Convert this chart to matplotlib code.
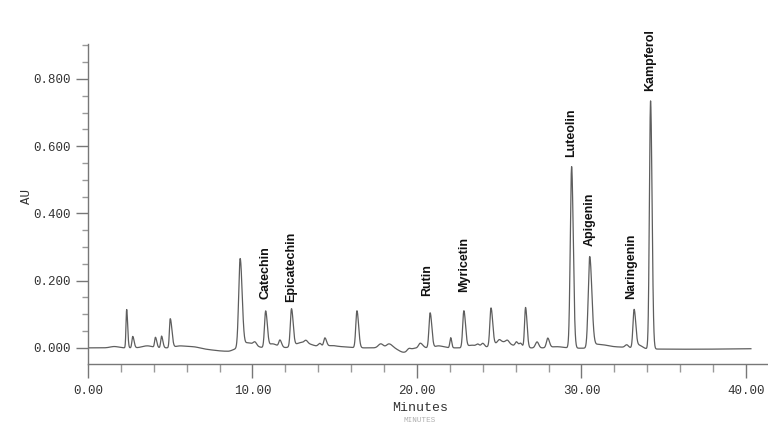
import numpy as np
import matplotlib
matplotlib.use('Agg')
import matplotlib.pyplot as plt
from matplotlib.ticker import MultipleLocator, FormatStrFormatter

# peak table: retention time (min), height (AU),
# front width and tail width (min)
rt = [1.6, 2.35, 2.72, 3.6, 4.1, 4.47, 5.0, 5.6, 6.5, 8.5,
      9.25, 9.7, 10.15, 10.8, 11.2, 11.67, 12.37, 13.0, 13.25, 14.1,
      14.4, 14.8, 15.5, 16.35, 17.8, 18.3, 19.2, 19.5, 20.2, 20.8,
      21.3, 22.05, 22.85, 23.3, 23.7, 24.0, 24.5, 25.0, 25.2, 25.5,
      26.05, 26.3, 26.6, 27.3, 27.95, 28.5, 29.4, 30.5, 31.0, 32.5,
      32.75, 33.2, 33.5, 34.2, 36.5]
height = [0.004, 0.114, 0.034, 0.006, 0.030, 0.035, 0.086, 0.006, 0.003, -0.010,
          0.265, 0.015, 0.010, 0.108, 0.012, 0.020, 0.112, 0.016, 0.008, 0.010,
          0.026, 0.006, 0.003, 0.110, 0.012, 0.012, -0.013, 0.006, 0.014, 0.104,
          0.006, 0.030, 0.110, 0.008, 0.008, 0.012, 0.112, 0.008, 0.018, 0.008,
          0.014, 0.012, 0.120, 0.018, 0.028, 0.004, 0.540, 0.270, 0.012, 0.004,
          0.008, 0.114, 0.010, 0.738, -0.004]
front = [0.25, 0.04, 0.05, 0.3, 0.05, 0.05, 0.05, 0.3, 0.3, 1.0,
         0.09, 0.2, 0.1, 0.07, 0.2, 0.07, 0.07, 0.4, 0.1, 0.1,
         0.07, 0.3, 0.4, 0.07, 0.15, 0.15, 0.3, 0.1, 0.1, 0.07,
         0.2, 0.05, 0.07, 0.2, 0.1, 0.1, 0.07, 0.1, 0.5, 0.1,
         0.08, 0.08, 0.06, 0.1, 0.08, 0.4, 0.08, 0.09, 0.3, 0.6,
         0.1, 0.07, 0.15, 0.07, 4.0]
tail = [0.25, 0.06, 0.08, 0.3, 0.08, 0.08, 0.1, 0.5, 0.3, 0.3,
        0.12, 0.4, 0.1, 0.1, 0.3, 0.1, 0.1, 0.6, 0.1, 0.1,
        0.1, 0.3, 0.4, 0.1, 0.15, 0.2, 0.3, 0.1, 0.15, 0.1,
        0.3, 0.06, 0.1, 0.3, 0.1, 0.1, 0.1, 0.1, 0.5, 0.1,
        0.1, 0.1, 0.09, 0.1, 0.1, 0.4, 0.1, 0.13, 0.6, 0.6,
        0.1, 0.1, 0.2, 0.09, 4.0]

compounds = ['Catechin', 'Epicatechin', 'Rutin', 'Myricetin',
             'Luteolin', 'Apigenin', 'Naringenin', 'Kampferol']
compound_rt = [10.8, 12.37, 20.8, 22.85, 29.4, 30.5, 33.2, 34.2]
label_gap = [12, 7, 17, 19, 10, 11, 10, 10]
label_shift = [0, 0, -3, 0, 0, 0, -3, 0]

t = np.linspace(0.0, 40.3, 6000)
au = np.zeros_like(t)
for c, h, sl, sr in zip(rt, height, front, tail):
    s = np.where(t < c, sl, sr)
    au += h * np.exp(-0.5 * ((t - c) / s) ** 2)

fig = plt.figure(figsize=(7.68, 4.26), dpi=100)
ax = fig.add_axes([88 / 768, 62 / 426, 681 / 768, 320 / 426])
ax.plot(t, au, color='#5e5e5e', lw=0.9)
ax.set_xlim(0, 41.4)
ax.set_ylim(-0.048, 0.904)

for s in ['top', 'right']:
    ax.spines[s].set_visible(False)
for s in ['left', 'bottom']:
    ax.spines[s].set_color('#777777')
    ax.spines[s].set_linewidth(1.0)

ax.xaxis.set_major_locator(MultipleLocator(10))
ax.xaxis.set_minor_locator(MultipleLocator(2))
ax.yaxis.set_major_locator(MultipleLocator(0.2))
ax.yaxis.set_minor_locator(MultipleLocator(0.05))
ax.xaxis.set_major_formatter(FormatStrFormatter('%.2f'))
ax.yaxis.set_major_formatter(FormatStrFormatter('%.3f'))
ax.tick_params(axis='x', which='major', length=10, width=1, color='#777777', pad=5)
ax.tick_params(axis='x', which='minor', length=5.5, width=1, color='#999999')
ax.tick_params(axis='y', which='major', length=8.6, width=1, color='#777777', pad=3.5)
ax.tick_params(axis='y', which='minor', length=4.5, width=1, color='#999999')
for lab in ax.get_xticklabels() + ax.get_yticklabels():
    lab.set_family('Liberation Mono')
    lab.set_fontsize(9)
    lab.set_color('#333333')

fig.text(27 / 768, 1 - 197 / 426, 'AU', rotation=90, ha='center', va='center',
         family='Liberation Mono', fontsize=9, color='#333333')
fig.text(420 / 768, 1 - 408 / 426, 'Minutes', ha='center', va='center',
         family='Liberation Mono', fontsize=9.5, color='#333333')
fig.text(420 / 768, 1 - 420 / 426, 'MINUTES', ha='center', va='center',
         family='Liberation Mono', fontsize=5.5, color='#b0b0b0')

for name, c, gap, dx in zip(compounds, compound_rt, label_gap, label_shift):
    peak = np.interp(c, t, au)
    ax.annotate(name, (c, peak), xytext=(dx, gap), textcoords='offset pixels',
                rotation=90, ha='center', va='bottom', fontsize=9,
                fontweight='bold', family='Liberation Sans', color='#111111')

fig.savefig('out.png', dpi=100)
